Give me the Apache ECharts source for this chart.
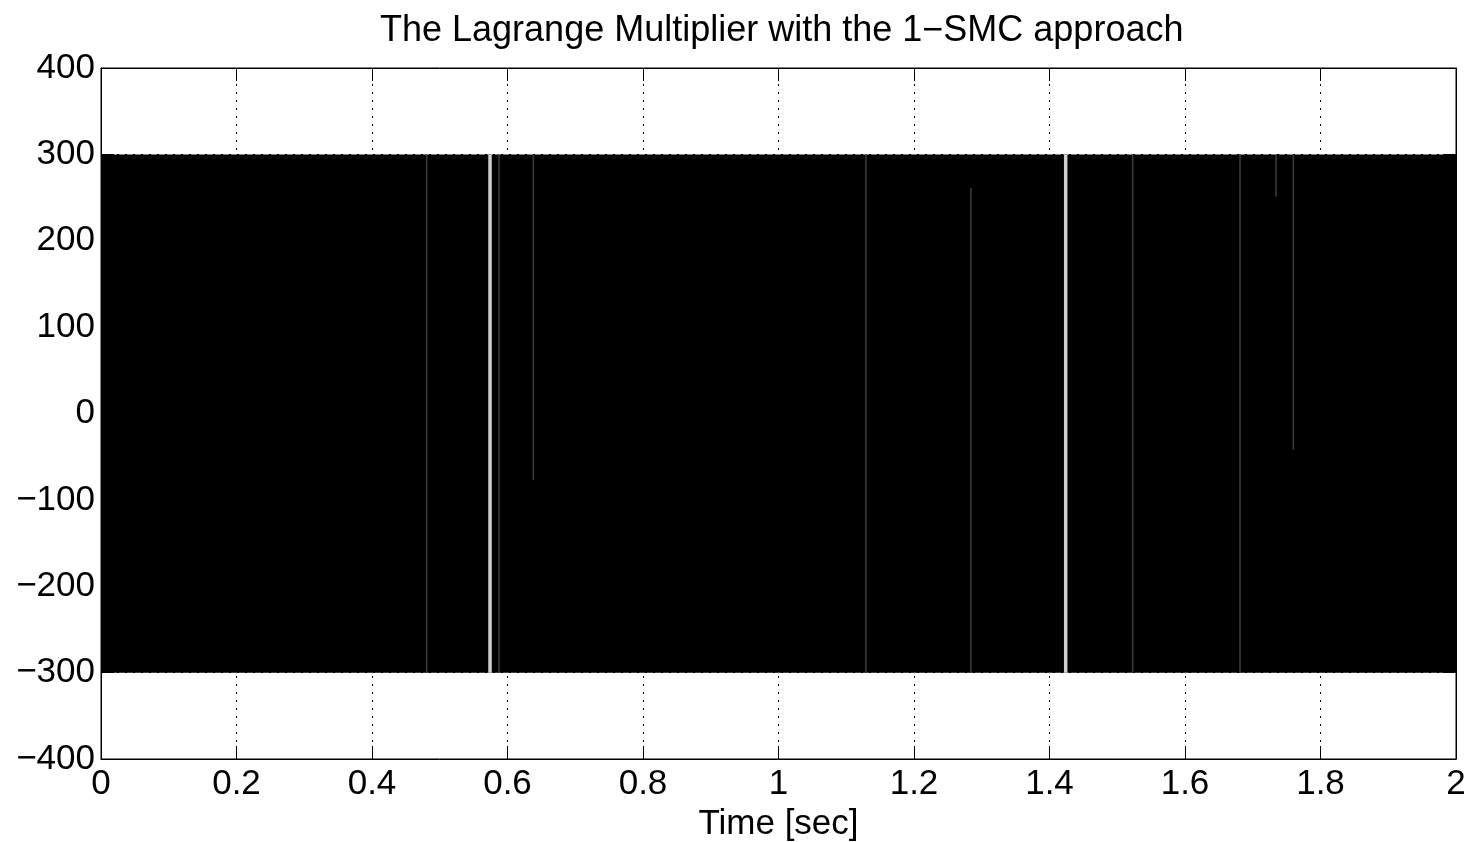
<!DOCTYPE html>
<html>
<head>
<meta charset="utf-8">
<script src="https://cdn.jsdelivr.net/npm/echarts@6/dist/echarts.min.js"></script>
<style>
html,body{margin:0;padding:0;background:#fff;}
#chart{width:1469px;height:842px;}
</style>
</head>
<body>
<div id="chart"></div>
<script>
// ---- data ----
const titleText = 'The Lagrange Multiplier with the 1\u2212SMC approach';
const xLabel = 'Time [sec]';
const xTicks = [0, 0.2, 0.4, 0.6, 0.8, 1, 1.2, 1.4, 1.6, 1.8, 2];
const yTicks = [-400, -300, -200, -100, 0, 100, 200, 300, 400];
// chattering signal: switches between these bounds over this time span
const chatterTime = [0, 2];
const chatterBounds = [-300, 300];
// short instants where the signal did not sweep the full band (thin gaps)
const thinGapTime   = [0.4807, 0.5875, 0.6381, 1.129, 1.284, 1.5228, 1.6812, 1.7343, 1.7599];
const thinGapTop    = [300, 300, 300, 300, 261, 300, 300, 300, 300];
const thinGapBottom = [-300, -300, -77, -300, -300, -300, -300, 251, -42];
// longer holds (wider light gaps)
const wideGapTime   = [0.5742, 1.4239];
const wideGapTop    = [300, 300];
const wideGapBottom = [-300, -300];

const FONT = 'Liberation Sans, Arial, Helvetica, sans-serif';
const fmtNum = v => String(v).replace('-', '\u2212');

const bandData = [[chatterTime[0], chatterTime[1], chatterBounds[0], chatterBounds[1]]];
const thinData = thinGapTime.map((t, i) => [t, thinGapTop[i], thinGapBottom[i]]);
const wideData = wideGapTime.map((t, i) => [t, wideGapTop[i], wideGapBottom[i]]);

function gapRenderer(color, width) {
  return function (params, api) {
    const p1 = api.coord([api.value(0), api.value(1)]);
    const p2 = api.coord([api.value(0), api.value(2)]);
    return {
      type: 'line',
      shape: { x1: p1[0], y1: p1[1], x2: p2[0], y2: p2[1] },
      style: { stroke: color, lineWidth: width }
    };
  };
}

const chart = echarts.init(document.getElementById('chart'), null, { renderer: 'canvas' });
const gridLine = { show: true, lineStyle: { color: '#000', width: 1, type: [2, 6] } };
const option = {
  backgroundColor: '#fff',
  animation: false,
  title: {
    text: titleText,
    left: 375, top: 8,
    textStyle: { fontFamily: FONT, fontSize: 36, fontWeight: 'normal', color: '#000' }
  },
  grid: { left: 101, right: 13, top: 68, bottom: 83, outerBoundsMode: 'none', containLabel: false,
          show: true, borderColor: '#000', borderWidth: 1, backgroundColor: 'transparent' },
  xAxis: [{
    type: 'value', min: 0, max: 2, interval: 0.2, position: 'bottom',
    name: xLabel, nameLocation: 'middle', nameGap: 36,
    nameTextStyle: { fontFamily: FONT, fontSize: 35, color: '#000' },
    axisLine: { show: true, onZero: false, lineStyle: { color: '#000', width: 1 } },
    axisTick: { show: true, inside: true, length: 13, lineStyle: { color: '#000' } },
    axisLabel: { fontFamily: FONT, fontSize: 35, color: '#000', margin: 8, formatter: fmtNum },
    splitLine: gridLine
  }, {
    type: 'value', min: 0, max: 2, interval: 0.2, position: 'top',
    axisLine: { show: true, onZero: false, lineStyle: { color: '#000', width: 1 } },
    axisTick: { show: true, inside: true, length: 13, lineStyle: { color: '#000' } },
    axisLabel: { show: false }, splitLine: { show: false }
  }],
  yAxis: [{
    type: 'value', min: -400, max: 400, interval: 100, position: 'left',
    axisLine: { show: true, onZero: false, lineStyle: { color: '#000', width: 1 } },
    axisTick: { show: true, inside: true, length: 13, lineStyle: { color: '#000' } },
    axisLabel: { fontFamily: FONT, fontSize: 35, color: '#000', margin: 6, formatter: fmtNum },
    splitLine: gridLine
  }, {
    type: 'value', min: -400, max: 400, interval: 100, position: 'right',
    axisLine: { show: true, onZero: false, lineStyle: { color: '#000', width: 1 } },
    axisTick: { show: true, inside: true, length: 13, lineStyle: { color: '#000' } },
    axisLabel: { show: false }, splitLine: { show: false }
  }],
  series: [{
    type: 'custom', xAxisIndex: 0, yAxisIndex: 0, z: 2,
    data: bandData,
    renderItem: function (params, api) {
      const a = api.coord([api.value(0), api.value(3)]);
      const b = api.coord([api.value(1), api.value(2)]);
      return { type: 'rect', shape: { x: a[0], y: a[1], width: b[0] - a[0], height: b[1] - a[1] }, style: { fill: '#000' } };
    }
  }, {
    type: 'custom', xAxisIndex: 0, yAxisIndex: 0, z: 3,
    data: thinData, renderItem: gapRenderer('#3a3a3a', 1.6)
  }, {
    type: 'custom', xAxisIndex: 0, yAxisIndex: 0, z: 3,
    data: wideData, renderItem: gapRenderer('#cfcfcf', 3.5)
  }]
};
chart.setOption(option);
</script>
</body>
</html>
